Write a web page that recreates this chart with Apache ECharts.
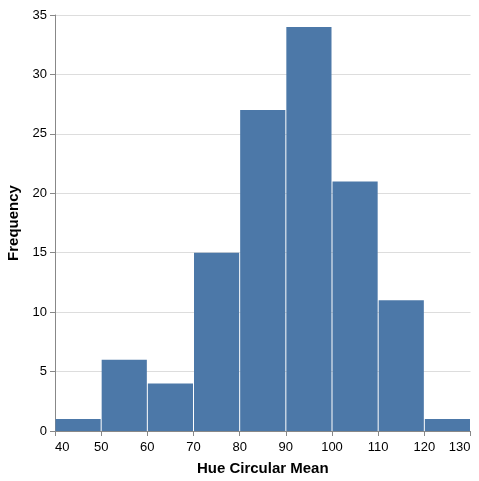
<!DOCTYPE html>
<html>
<head>
<meta charset="utf-8">
<script src="https://cdn.jsdelivr.net/npm/echarts@6/dist/echarts.min.js"></script>
<style>
html,body{margin:0;padding:0;background:#fff;}
#chart{width:479px;height:481px;}
</style>
</head>
<body>
<div id="chart"></div>
<script>
var binStart = [40, 50, 60, 70, 80, 90, 100, 110, 120];
var binEnd = [50, 60, 70, 80, 90, 100, 110, 120, 130];
var counts = [1, 6, 4, 15, 27, 34, 21, 11, 1];

var data = binStart.map(function (s, i) { return [s, binEnd[i], counts[i]]; });

var chart = echarts.init(document.getElementById('chart'), null, {renderer: 'canvas'});
var fontFam = '"Liberation Sans", Arial, Helvetica, sans-serif';
chart.setOption({
  animation: false,
  grid: {left: 55, right: 8.5, top: 15, bottom: 50, containLabel: false, outerBoundsMode: 'none'},
  xAxis: {
    type: 'value', min: 40, max: 130, interval: 10,
    name: 'Hue Circular Mean', nameLocation: 'middle', nameGap: 30,
    nameTextStyle: {fontFamily: fontFam, fontSize: 15, fontWeight: 'bold', color: '#000'},
    axisLine: {show: true, lineStyle: {color: '#888', width: 1}},
    axisTick: {show: true, length: 5, lineStyle: {color: '#888'}},
    axisLabel: {fontFamily: fontFam, fontSize: 13, color: '#000', margin: 10,
      alignMinLabel: 'left', alignMaxLabel: 'right'},
    splitLine: {show: false}
  },
  yAxis: {
    type: 'value', min: 0, max: 35, interval: 5,
    name: 'Frequency', nameLocation: 'middle', nameGap: 33,
    nameTextStyle: {fontFamily: fontFam, fontSize: 15, fontWeight: 'bold', color: '#000'},
    axisLine: {show: true, lineStyle: {color: '#888', width: 1}},
    axisTick: {show: true, length: 5, lineStyle: {color: '#888'}},
    axisLabel: {fontFamily: fontFam, fontSize: 13, color: '#000', margin: 8},
    splitLine: {show: true, lineStyle: {color: '#ddd', width: 1}}
  },
  series: [{
    type: 'custom',
    data: data,
    encode: {x: [0, 1], y: 2},
    renderItem: function (params, api) {
      var p0 = api.coord([api.value(0), 0]);
      var p1 = api.coord([api.value(1), api.value(2)]);
      return {
        type: 'rect',
        shape: {x: p0[0] + 0.5, y: p1[1], width: p1[0] - p0[0] - 1, height: p0[1] - p1[1]},
        style: {fill: '#4c78a8'}
      };
    }
  }]
});
</script>
</body>
</html>
